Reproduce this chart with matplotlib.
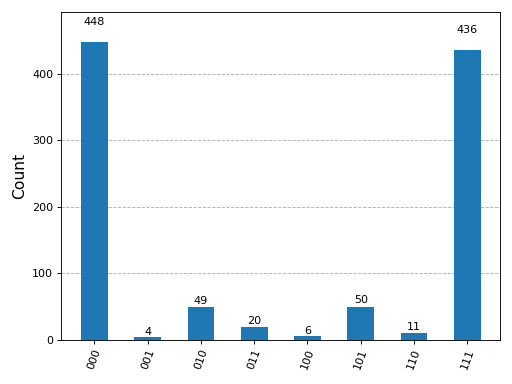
import matplotlib
matplotlib.use('Agg')
import matplotlib.pyplot as plt
import numpy as np

states = ['000', '001', '010', '011', '100', '101', '110', '111']
counts = [448, 4, 49, 20, 6, 50, 11, 436]

fig = plt.figure(figsize=(6.4, 4.8), dpi=80)
ax = fig.add_axes([0.119, 0.115, 0.858, 0.854])
x = np.arange(len(states))
ax.bar(x, counts, width=0.5, color='#1f77b4', zorder=2)
for xi, c in zip(x, counts):
    ax.text(xi, 1.05 * c, str(c), ha='center', va='bottom', fontsize=10)
ax.set_xticks(x)
ax.set_xticklabels(states, rotation=70, fontsize=10)
ax.set_xlim(-0.63, 7.62)
ax.set_ylim(0, 1.1 * max(counts))
ax.set_yticks([0, 100, 200, 300, 400])
ax.yaxis.grid(True, linestyle='--', color='#b0b0b0', linewidth=0.8, zorder=0)
ax.set_axisbelow(True)
ax.set_ylabel('Count', fontsize=14)
fig.savefig('out.png', dpi=80)
